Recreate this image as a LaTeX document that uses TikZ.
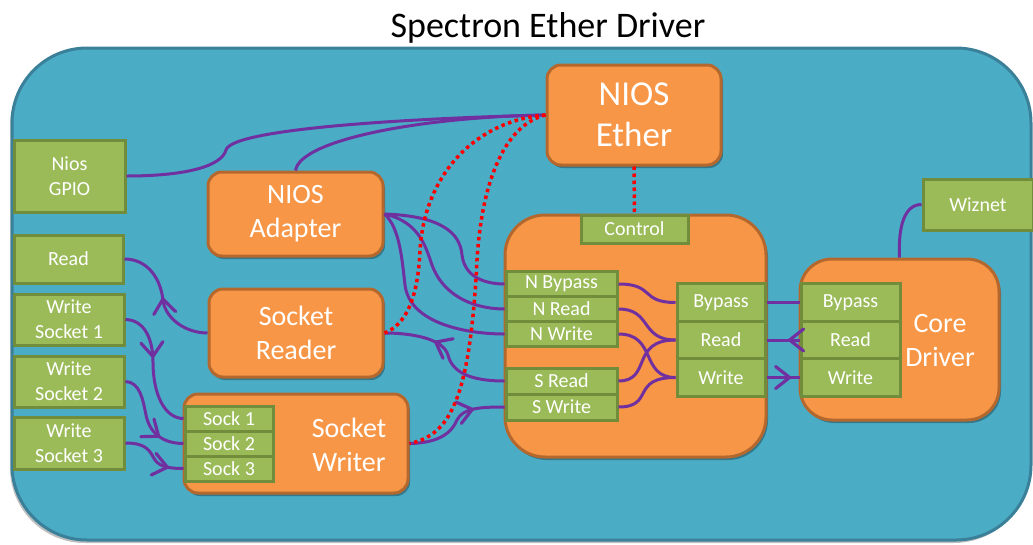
\documentclass[tikz,border=0pt]{standalone}
\usepackage{fontspec}
\setmainfont{Carlito}
\usetikzlibrary{arrows.meta,decorations.markings,shadows}
\definecolor{bgblue}{HTML}{4BACC6}
\definecolor{bgborder}{HTML}{3A8099}
\definecolor{orangef}{HTML}{F79646}
\definecolor{orangeb}{HTML}{B5682E}
\definecolor{greenf}{HTML}{9BBB59}
\definecolor{greenb}{HTML}{718C3A}
\definecolor{purp}{HTML}{7030A0}
\definecolor{redd}{HTML}{FF0000}
\begin{document}
\begin{tikzpicture}[x=1pt,y=-1pt,
  obox/.style={draw=orangeb, fill=orangef, line width=3pt, rounded corners=#1, text=white,
    inner sep=0pt, align=center, font=\fontsize{28}{34}\selectfont,
    drop shadow={shadow xshift=2pt,shadow yshift=-3pt,opacity=0.3,fill=black}},
  obox/.default=14pt,
  gbox/.style={draw=greenb, fill=greenf, line width=3pt, text=white, inner sep=0pt,
    align=center, font=\fontsize{20}{25}\selectfont},
  bigtxt/.style={text=white, align=center, font=\fontsize{28}{34}\selectfont},
  wire/.style={draw=purp, line width=3pt},
  ctl/.style={draw=redd, line width=3.5pt, dash pattern=on 3.5pt off 3.5pt},
  midarrow/.style={postaction={decorate}, decoration={markings,
    mark=at position #1 with {\draw[purp, line width=3.2pt, line cap=round, line join=round, solid]
      (-14pt,-11pt) -- (0pt,0pt) -- (-14pt,11pt);}}},
]
\useasboundingbox (0,0) rectangle (1033,544);
% background
\draw[fill=bgblue, draw=bgborder, line width=3pt, rounded corners=75pt,
  drop shadow={shadow xshift=-2pt,shadow yshift=-3pt,opacity=0.25,fill=black}] (12,48) rectangle (1031,540);
\node (title) at (548,28) {\fontsize{36}{43}\selectfont Spectron Ether Driver};

% nodes
\node[obox, minimum width=174pt, minimum height=100pt, font=\fontsize{35}{41}\selectfont] (ether) at (634,115) {NIOS\\Ether};
\node[gbox, minimum width=111pt, minimum height=72pt] (gpio) at (69.5,176) {Nios\\GPIO};
\node[obox, minimum width=175pt, minimum height=84pt] (adapter) at (295.5,214) {NIOS\\Adapter};
\node[gbox, minimum width=109pt, minimum height=48pt] (readg) at (68.5,259) {Read};
\node[gbox, minimum width=110pt, minimum height=51pt] (ws1) at (69,319.5) {Write\\Socket 1};
\node[gbox, minimum width=110pt, minimum height=51pt] (ws2) at (69,381.5) {Write\\Socket 2};
\node[gbox, minimum width=110pt, minimum height=52pt] (ws3) at (69,443) {Write\\Socket 3};
\node[obox, minimum width=174pt, minimum height=88pt] (reader) at (296,333) {Socket\\Reader};
\node[obox, minimum width=224pt, minimum height=99pt] (writer) at (296,443.5) {};
\node[bigtxt] (writerlbl) at (349,445) {Socket\\Writer};
\node[gbox, minimum width=88pt, minimum height=25pt] (sock1) at (229,418.5) {Sock 1};
\node[gbox, minimum width=88pt, minimum height=25pt] (sock2) at (229,443.5) {Sock 2};
\node[gbox, minimum width=88pt, minimum height=25pt] (sock3) at (229,468.5) {Sock 3};

\node[obox=40pt, minimum width=261pt, minimum height=242pt] (core) at (635.5,336) {};
\node[gbox, minimum width=107pt, minimum height=28pt] (control) at (634.5,229) {Control};
\node[gbox, minimum width=111pt, minimum height=25pt] (nbyp) at (561.5,284) {N Bypass};
\node[gbox, minimum width=111pt, minimum height=25pt] (nread) at (561.5,309) {N Read};
\node[gbox, minimum width=111pt, minimum height=25pt] (nwrite) at (561.5,334) {N Write};
\node[gbox, minimum width=111pt, minimum height=26pt] (sread) at (561.5,381) {S Read};
\node[gbox, minimum width=111pt, minimum height=26pt] (swrite) at (561.5,407) {S Write};
\node[gbox, minimum width=88pt, minimum height=37.5pt] (byp) at (721,302.5) {Bypass};
\node[gbox, minimum width=88pt, minimum height=37.5pt] (mread) at (721,340) {Read};
\node[gbox, minimum width=88pt, minimum height=37.5pt] (mwrite) at (721,377.5) {Write};

\node[obox=32pt, minimum width=199pt, minimum height=161pt] (cdrv) at (899.5,339.5) {};
\node[bigtxt] (cdrvlbl) at (940,341) {Core\\Driver};
\node[gbox, minimum width=99pt, minimum height=38pt] (cbyp) at (850.5,302.5) {Bypass};
\node[gbox, minimum width=99pt, minimum height=38pt] (cread) at (850.5,340) {Read};
\node[gbox, minimum width=99pt, minimum height=38pt] (cwrite) at (850.5,377.5) {Write};
\node[gbox, minimum width=110pt, minimum height=51pt] (wiznet) at (978,204.5) {Wiznet};

% purple wires
\draw[wire] (gpio.east) .. controls (190,176) and (222,165) .. (226,150)
  .. controls (232,128) and (420,118) .. (ether.west);
\draw[wire] (adapter.north) .. controls (300,140) and (420,117) .. (ether.west);
\draw[wire] (adapter.east) .. controls (440,216) and (460,232) .. (462,255)
  .. controls (465,280) and (490,284) .. (nbyp.west);
\draw[wire] (adapter.east) .. controls (420,222) and (426,248) .. (432,265)
  .. controls (445,300) and (480,309) .. (nread.west);
\draw[wire] (adapter.east) .. controls (400,228) and (402,260) .. (405,285)
  .. controls (410,325) and (470,334) .. (nwrite.west);
\draw[wire, midarrow=0.62] (sread.west) .. controls (470,381) and (452,372) .. (448,355)
  .. controls (443,338) and (410,333) .. (reader.east);
\draw[wire, midarrow=0.7] (writer.east) .. controls (440,443) and (452,432) .. (457,420)
  .. controls (463,408) and (480,407) .. (swrite.west);
\draw[wire, midarrow=0.5] (reader.west) .. controls (185,333) and (165,318) .. (163,300)
  .. controls (160,275) and (145,259) .. (readg.east);
\draw[wire, midarrow=0.4] (ws1.east) .. controls (145,320) and (153,340) .. (153,362)
  .. controls (153,395) and (165,418.5) .. (sock1.west);
\draw[wire, midarrow=0.72] (ws2.east) .. controls (140,382) and (143,400) .. (146,415)
  .. controls (150,435) and (165,443.5) .. (sock2.west);
\draw[wire, midarrow=0.76] (ws3.east) .. controls (148,443) and (150,452) .. (155,460)
  .. controls (160,467) and (170,468.5) .. (sock3.west);
% inside core
\draw[wire] (nbyp.east) .. controls (655,284) and (640,302.5) .. (byp.west);
\draw[wire] (nread.east) .. controls (652,309) and (640,340) .. (mread.west);
\draw[wire] (nwrite.east) .. controls (657,334) and (640,377.5) .. (mwrite.west);
\draw[wire] (sread.east) .. controls (652,381) and (630,340) .. (mread.west);
\draw[wire] (swrite.east) .. controls (655,407) and (630,377.5) .. (mwrite.west);
% core to core driver
\draw[wire] (byp.east) -- (cbyp.west);
\draw[wire, midarrow=0.3] (cread.west) -- (mread.east);
\draw[wire, midarrow=0.7] (mwrite.east) -- (cwrite.west);
\draw[wire] (cdrv.north) .. controls (898,225) and (905,204.5) .. (wiznet.west);

% red dotted control lines
\draw[ctl] (ether.south) -- (control.north);
\draw[ctl] (ether.west) .. controls (480,120) and (425,170) .. (420,250)
  .. controls (418,300) and (405,325) .. (reader.east);
\draw[ctl] (ether.west) .. controls (505,125) and (482,180) .. (477,260)
  .. controls (470,400) and (450,435) .. (writer.east);
\end{tikzpicture}
\end{document}
